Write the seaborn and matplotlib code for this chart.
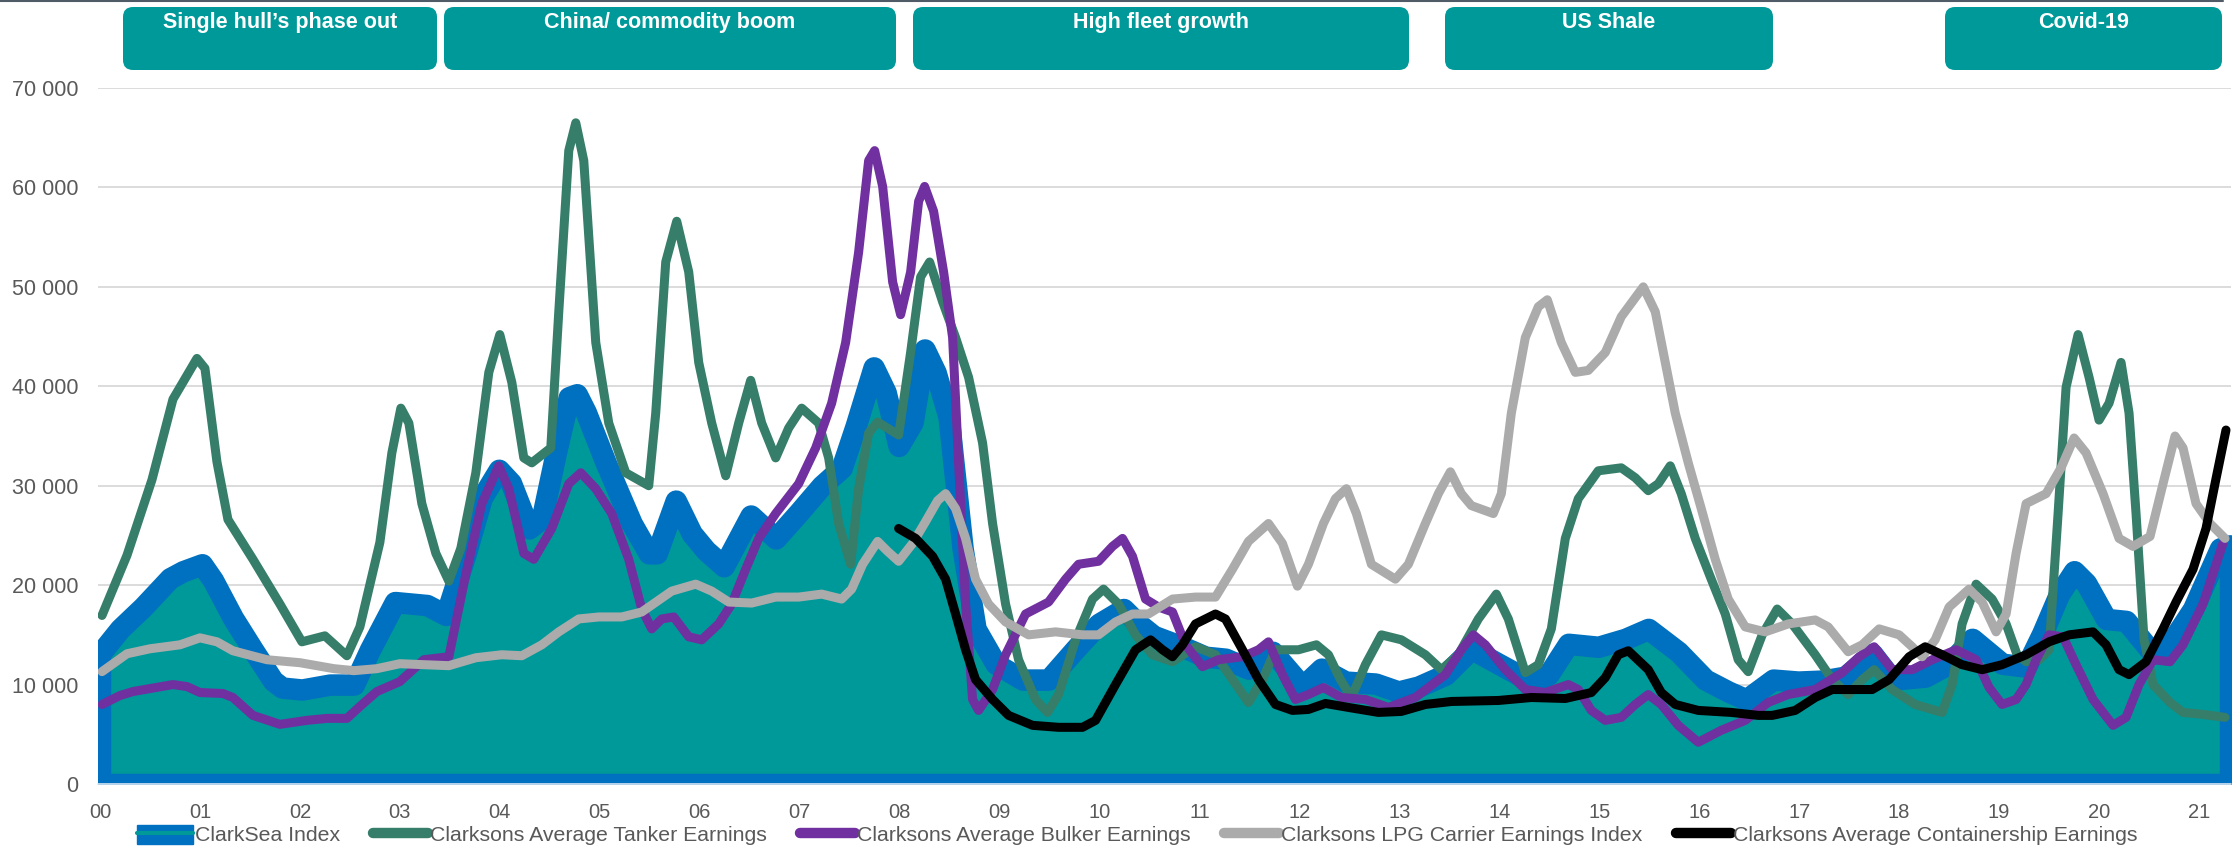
import numpy as np
import pandas as pd
import matplotlib
matplotlib.use("Agg")
import matplotlib.pyplot as plt
import seaborn as sns
from matplotlib.lines import Line2D
from matplotlib.patches import Patch, FancyBboxPatch
from matplotlib.ticker import FuncFormatter, MultipleLocator

# ================= DATA (years since 2000, USD/day) =================
clarksea_x = [0.00, 0.20, 0.43, 0.70, 0.83, 1.02, 1.13, 1.33, 1.53, 1.73, 1.82, 2.02, 2.30, 2.54, 2.70,
              2.95, 3.27, 3.46, 3.66, 3.82, 3.99, 4.11, 4.29, 4.42, 4.56, 4.69, 4.77, 4.86, 5.06, 5.32,
              5.49, 5.57, 5.76, 5.92, 6.06, 6.24, 6.51, 6.76, 6.99, 7.22, 7.42, 7.56, 7.74, 7.86, 7.99,
              8.13, 8.25, 8.36, 8.49, 8.63, 8.76, 8.96, 9.23, 9.49, 9.76, 9.99, 10.24, 10.39, 10.54,
              10.83, 11.06, 11.26, 11.49, 11.73, 12.03, 12.22, 12.46, 12.76, 12.99, 13.19, 13.46, 13.72,
              13.99, 14.32, 14.49, 14.69, 14.99, 15.26, 15.49, 15.79, 16.06, 16.29, 16.47, 16.74, 16.99,
              17.23, 17.46, 17.73, 17.93, 18.26, 18.50, 18.73, 19.03, 19.27, 19.43, 19.60, 19.75, 19.87,
              20.07, 20.27, 20.54, 20.71, 20.94, 21.21, 21.31]
clarksea_y = [13100, 15600, 17800, 20700, 21400, 22100, 20500, 16700, 13500, 10400, 9700, 9500, 10000, 10000, 13500,
              18300, 18000, 17000, 23200, 28800, 31600, 30300, 25700, 26700, 33300, 38900, 39200, 37400, 32300, 26200,
              23200, 23200, 28500, 25200, 23500, 21900, 27000, 24700, 27300, 30000, 31800, 36000, 41900, 39400, 34000,
              36400, 43700, 41400, 36900, 23700, 15600, 12100, 10500, 10500, 13600, 16100, 17600, 16100, 14900,
              13800, 12800, 12600, 11600, 13300, 9800, 11600, 10300, 10100, 9300, 9800, 11000, 13600,
              12100, 10300, 11000, 14100, 13800, 14600, 15600, 13300, 10500, 9300, 8500, 10500, 10300,
              10400, 10800, 13100, 10500, 10800, 12100, 14600, 12100, 11800, 15100, 19100, 21400, 20200,
              16600, 16400, 13100, 14100, 17600, 23700, 24000]

tanker_x = [0.02, 0.27, 0.52, 0.73, 0.97, 1.05, 1.17, 1.28, 1.53, 1.80, 2.02, 2.25, 2.47, 2.60, 2.80, 2.92,
            3.01, 3.09, 3.22, 3.36, 3.49, 3.61, 3.76, 3.89, 4.00, 4.12, 4.24, 4.32, 4.51, 4.59, 4.69, 4.76,
            4.84, 4.96, 5.09, 5.26, 5.49, 5.56, 5.66, 5.77, 5.89, 5.99, 6.12, 6.26, 6.39, 6.51, 6.62, 6.76,
            6.89, 7.02, 7.19, 7.29, 7.39, 7.51, 7.59, 7.69, 7.78, 7.99, 8.11, 8.21, 8.30, 8.43, 8.56, 8.69,
            8.83, 8.93, 9.06, 9.19, 9.36, 9.48, 9.59, 9.76, 9.93, 10.04, 10.19, 10.36, 10.53, 10.73, 10.96,
            11.16, 11.33, 11.49, 11.63, 11.76, 11.99, 12.17, 12.29, 12.41, 12.52, 12.66, 12.82, 13.02, 13.26,
            13.42, 13.59, 13.79, 13.97, 14.09, 14.26, 14.39, 14.52, 14.66, 14.79, 14.99, 15.22, 15.36, 15.49,
            15.59, 15.71, 15.82, 15.96, 16.12, 16.26, 16.39, 16.49, 16.63, 16.78, 16.93, 17.16, 17.33, 17.49,
            17.63, 17.75, 17.93, 18.16, 18.43, 18.53, 18.63, 18.77, 18.93, 19.07, 19.18, 19.27, 19.40, 19.50,
            19.59, 19.67, 19.79, 19.90, 20.00, 20.10, 20.22, 20.30, 20.37, 20.45, 20.54, 20.71, 20.84, 21.04,
            21.26]
tanker_y = [16950, 23000, 30600, 38700, 42800, 41800, 32400, 26600, 22600, 18100, 14300, 14900, 12900, 15800, 24300, 33300,
            37800, 36300, 28200, 23200, 20400, 23700, 31300, 41400, 45200, 40400, 32800, 32300, 33800, 47500, 63700, 66500,
            62700, 44400, 36300, 31300, 30000, 37300, 52500, 56600, 51500, 42400, 36300, 31000, 36300, 40600, 36300, 32800,
            35800, 37800, 36300, 32800, 26200, 22100, 29700, 35300, 36400, 35100, 43400, 51000, 52500, 48500, 44900, 40900,
            34300, 26200, 18100, 12500, 8500, 7200, 9000, 14500, 18600, 19600, 18100, 15000, 13000, 12300, 13800,
            13000, 10500, 8200, 10500, 13500, 13500, 14000, 13000, 10500, 8700, 12000, 15000, 14500, 13000,
            11500, 13000, 16600, 19100, 16600, 11200, 12000, 15600, 24700, 28700, 31500, 31800, 30800, 29500,
            30200, 32000, 29200, 24700, 20600, 17100, 12500, 11300, 15000, 17600, 16100, 13000, 10500, 9000,
            10500, 11500, 9500, 8000, 7200, 10000, 16100, 20100, 18600, 16100, 13000, 12300, 12500, 13500,
            27200, 39900, 45200, 40900, 36600, 38300, 42400, 37300, 27200, 14500, 10000, 8200, 7200, 7000,
            6700]

bulker_x = [0.02, 0.20, 0.33, 0.50, 0.73, 0.87, 1.00, 1.23, 1.33, 1.53, 1.80, 2.07, 2.27, 2.47, 2.60, 2.77,
            3.00, 3.24, 3.49, 3.66, 3.82, 3.99, 4.09, 4.24, 4.34, 4.52, 4.69, 4.81, 4.96, 5.12, 5.29, 5.42,
            5.52, 5.62, 5.74, 5.89, 6.02, 6.19, 6.32, 6.46, 6.59, 6.76, 6.99, 7.16, 7.32, 7.46, 7.59, 7.69,
            7.75, 7.83, 7.93, 8.01, 8.11, 8.19, 8.25, 8.34, 8.44, 8.53, 8.59, 8.66, 8.73, 8.79, 8.93, 9.06,
            9.26, 9.49, 9.66, 9.79, 9.99, 10.13, 10.23, 10.33, 10.46, 10.59, 10.73, 10.86, 11.03, 11.19,
            11.43, 11.59, 11.69, 11.83, 11.96, 12.09, 12.24, 12.42, 12.66, 12.89, 13.16, 13.46, 13.62, 13.74,
            13.86, 14.06, 14.26, 14.46, 14.69, 14.79, 14.92, 15.06, 15.22, 15.36, 15.49, 15.62, 15.79, 15.99,
            16.22, 16.46, 16.69, 16.89, 17.16, 17.43, 17.60, 17.75, 17.93, 18.13, 18.33, 18.57, 18.77, 18.90,
            19.03, 19.17, 19.27, 19.37, 19.50, 19.64, 19.77, 19.94, 20.14, 20.27, 20.40, 20.54, 20.71, 20.84,
            21.04, 21.24]
bulker_y = [8000, 8900, 9300, 9600, 10000, 9800, 9200, 9100, 8700, 6900, 6000, 6400, 6600, 6600, 7800, 9300,
            10300, 12500, 12800, 21100, 28200, 32000, 29700, 23200, 22600, 25700, 30200, 31300, 29700, 27200, 22600, 17600,
            15600, 16600, 16800, 14800, 14500, 16100, 18100, 21600, 24700, 27200, 30200, 33800, 38300, 44400, 53500, 62700,
            63700, 60100, 50500, 47200, 51500, 58600, 60100, 57600, 51500, 44900, 32300, 18100, 8500, 7400, 9500, 13000,
            17100, 18300, 20600, 22100, 22400, 23900, 24700, 22900, 18600, 17800, 17300, 14000, 11800, 12500,
            12800, 13500, 14300, 11000, 8500, 9000, 9700, 8700, 8500, 7700, 8700, 11000, 13500, 15000,
            14000, 11500, 9500, 9200, 10000, 9500, 7400, 6400, 6700, 8000, 9000, 8000, 5900, 4200,
            5400, 6400, 8200, 9000, 9500, 11200, 12800, 13800, 11500, 11500, 12500, 13500, 12500, 9700,
            8000, 8500, 10000, 12500, 15000, 14800, 12000, 8500, 5900, 6700, 10000, 12500, 12300, 14000,
            18100, 24200]

lpg_x = [0.02, 0.27, 0.50, 0.80, 1.00, 1.17, 1.33, 1.67, 2.00, 2.34, 2.54, 2.77, 3.00, 3.24, 3.49, 3.76,
         4.02, 4.22, 4.42, 4.59, 4.79, 4.99, 5.22, 5.42, 5.72, 5.96, 6.12, 6.29, 6.52, 6.76, 6.99, 7.22,
         7.42, 7.52, 7.63, 7.78, 7.88, 7.99, 8.13, 8.26, 8.38, 8.46, 8.56, 8.66, 8.76, 8.89, 9.06, 9.29,
         9.56, 9.83, 9.99, 10.16, 10.33, 10.49, 10.73, 10.96, 11.16, 11.33, 11.49, 11.69, 11.83, 11.98,
         12.09, 12.24, 12.36, 12.47, 12.57, 12.72, 12.96, 13.09, 13.26, 13.39, 13.51, 13.62, 13.72, 13.94,
         14.02, 14.12, 14.26, 14.39, 14.48, 14.62, 14.76, 14.89, 15.06, 15.22, 15.44, 15.56, 15.66, 15.76,
         15.89, 16.02, 16.16, 16.29, 16.46, 16.66, 16.89, 17.16, 17.29, 17.49, 17.63, 17.80, 18.00, 18.13,
         18.23, 18.36, 18.50, 18.70, 18.83, 18.97, 19.07, 19.17, 19.27, 19.47, 19.62, 19.75, 19.87, 20.04,
         20.20, 20.34, 20.51, 20.64, 20.76, 20.84, 20.97, 21.11, 21.26]
lpg_y = [11300, 13100, 13600, 14000, 14700, 14300, 13400, 12500, 12200, 11600, 11400, 11600, 12100, 12000, 11900, 12700,
         13000, 12900, 14000, 15300, 16600, 16800, 16800, 17300, 19400, 20100, 19400, 18300, 18200, 18800, 18800, 19100,
         18600, 19600, 22100, 24400, 23400, 22400, 24200, 26400, 28500, 29200, 27700, 24700, 20600, 18100, 16300, 15000,
         15300, 15000, 15000, 16300, 17100, 17100, 18600, 18800, 18800, 21600, 24400, 26200, 24200, 19900,
         22100, 26200, 28700, 29700, 27200, 22100, 20600, 22100, 26200, 29200, 31400, 29200, 28000, 27200,
         29200, 37300, 44900, 48000, 48700, 44400, 41400, 41600, 43400, 47000, 50000, 47500, 42400, 37300,
         32300, 27700, 22600, 18600, 15800, 15300, 16100, 16500, 15800, 13300, 14000, 15600, 15000, 13800,
         12800, 14500, 17800, 19600, 18300, 15300, 17100, 23200, 28200, 29200, 31800, 34800, 33300, 29200,
         24700, 23900, 24900, 30200, 35000, 33800, 28200, 26200, 24700]

container_x = [7.99, 8.16, 8.33, 8.46, 8.56, 8.66, 8.76, 8.93, 9.09, 9.33, 9.59, 9.83, 9.96, 10.16, 10.36,
               10.51, 10.63, 10.73, 10.83, 10.96, 11.16, 11.26, 11.43, 11.59, 11.76, 11.93, 12.09, 12.26,
               12.49, 12.79, 13.02, 13.26, 13.52, 13.99, 14.32, 14.66, 14.92, 15.06, 15.19, 15.29, 15.49,
               15.62, 15.76, 15.99, 16.32, 16.59, 16.73, 16.96, 17.16, 17.33, 17.49, 17.73, 17.90, 18.10,
               18.26, 18.43, 18.63, 18.83, 19.03, 19.27, 19.50, 19.70, 19.94, 20.07, 20.20, 20.30, 20.47,
               20.64, 20.77, 20.94, 21.07, 21.17, 21.27]
container_y = [25700, 24700, 22900, 20600, 17100, 13500, 10500, 8500, 6900, 5900, 5700, 5700, 6400, 10000, 13500,
               14500, 13500, 12800, 14000, 16100, 17100, 16600, 13500, 10500, 8000, 7400, 7500, 8100,
               7700, 7200, 7300, 8000, 8300, 8400, 8700, 8600, 9200, 10700, 13000, 13400, 11500,
               9200, 8000, 7400, 7200, 6900, 6900, 7400, 8700, 9500, 9500, 9500, 10500, 12800,
               13800, 13000, 12000, 11500, 12000, 13000, 14300, 15000, 15300, 14000, 11500, 11000, 12300,
               15600, 18300, 21600, 25700, 30700, 35600]

year_labels = ["00", "01", "02", "03", "04", "05", "06", "07", "08", "09", "10",
               "11", "12", "13", "14", "15", "16", "17", "18", "19", "20", "21"]

banner_labels = ["Single hull\u2019s phase out", "China/ commodity boom", "High fleet growth",
                 "US Shale", "Covid-19"]

series_names = ["ClarkSea Index", "Clarksons Average Tanker Earnings", "Clarksons Average Bulker Earnings",
                "Clarksons LPG Carrier Earnings Index", "Clarksons Average Containership Earnings"]

# ================= STYLE =================
TEAL = "#009999"
BLUE = "#0070C0"
GREEN = "#367E69"
PURPLE = "#7030A0"
GREY = "#ABABAB"
BLACK = "#000000"
TEXT = "#595959"

sns.set_theme(style="white")
plt.rcParams["font.family"] = ["Liberation Sans", "DejaVu Sans"]

W, H = 2239, 851
fig = plt.figure(figsize=(W / 100, H / 100), dpi=100)
ax = fig.add_axes([98 / W, (H - 784) / H, (2231 - 98) / W, (784 - 88) / H])

# ================= CLARKSEA AREA =================
ax.fill_between(clarksea_x, clarksea_y, 0, facecolor=TEAL, edgecolor=BLUE,
                linewidth=15.5, joinstyle="round", zorder=2)

# ================= LINES =================
lines = pd.concat([
    pd.DataFrame({"year": tanker_x, "value": tanker_y, "series": series_names[1]}),
    pd.DataFrame({"year": bulker_x, "value": bulker_y, "series": series_names[2]}),
    pd.DataFrame({"year": lpg_x, "value": lpg_y, "series": series_names[3]}),
    pd.DataFrame({"year": container_x, "value": container_y, "series": series_names[4]}),
], ignore_index=True)

colors = [GREEN, PURPLE, GREY, BLACK]
for i, name in enumerate(series_names[1:]):
    sub = lines[lines["series"] == name]
    sns.lineplot(data=sub, x="year", y="value", ax=ax, color=colors[i], linewidth=6.5,
                 estimator=None, sort=False, legend=False, zorder=3 + i,
                 solid_capstyle="round", solid_joinstyle="round")

# ================= AXES =================
ax.set_xlim(-0.02, 21.32)
ax.set_ylim(0, 70000)
ax.yaxis.set_major_locator(MultipleLocator(10000))
ax.yaxis.set_major_formatter(FuncFormatter(lambda v, p: f"{v:,.0f}".replace(",", " ")))
ax.set_xticks(range(len(year_labels)))
ax.set_xticklabels(year_labels)
ax.tick_params(axis="y", length=0, pad=14, labelsize=15.5, labelcolor=TEXT)
ax.tick_params(axis="x", length=0, pad=14, labelsize=14.5, labelcolor=TEXT)
ax.set_xlabel("")
ax.set_ylabel("")
ax.grid(axis="y", color="#D9D9D9", linewidth=1.3)
ax.grid(axis="x", visible=False)
ax.set_axisbelow(True)
for s in ax.spines.values():
    s.set_visible(False)
ax.axhline(0, color="#D9E6F2", linewidth=1.2, zorder=10, clip_on=False)

# ================= LEGEND =================
handles = [
    (Patch(facecolor=BLUE, edgecolor=BLUE), Line2D([], [], color=TEAL, linewidth=3)),
    Line2D([], [], color=GREEN, linewidth=7.5, solid_capstyle="round"),
    Line2D([], [], color=PURPLE, linewidth=7.5, solid_capstyle="round"),
    Line2D([], [], color=GREY, linewidth=7.5, solid_capstyle="round"),
    Line2D([], [], color=BLACK, linewidth=7.5, solid_capstyle="round"),
]
leg = fig.legend(handles, series_names, loc="center", bbox_to_anchor=(0.508, 1 - 835 / H),
                 ncol=5, frameon=False, fontsize=15.3, handlelength=2.6, handleheight=1.0,
                 handletextpad=0.1, columnspacing=1.55, borderaxespad=0)
for t in leg.get_texts():
    t.set_color(TEXT)

# ================= BANNERS =================
boxes = [(123, 437), (444, 896), (913, 1409), (1445, 1773), (1945, 2222)]
for (x0, x1), label in zip(boxes, banner_labels):
    patch = FancyBboxPatch((x0 / 100, (H - 70) / 100), (x1 - x0) / 100, 63 / 100,
                           boxstyle="round,pad=0,rounding_size=0.1",
                           transform=fig.dpi_scale_trans, facecolor=TEAL, edgecolor="none")
    fig.patches.append(patch)
    fig.text((x0 + x1) / 200, (H - 22) / 100, label, transform=fig.dpi_scale_trans,
             ha="center", va="center", color="white", fontsize=15.5, fontweight="bold")

fig.add_artist(Line2D([0, 0.993], [1 - 1 / H, 1 - 1 / H], transform=fig.transFigure,
                      color="#4F5B66", linewidth=1.5))

fig.savefig("out.png", dpi=100)
plt.close(fig)
